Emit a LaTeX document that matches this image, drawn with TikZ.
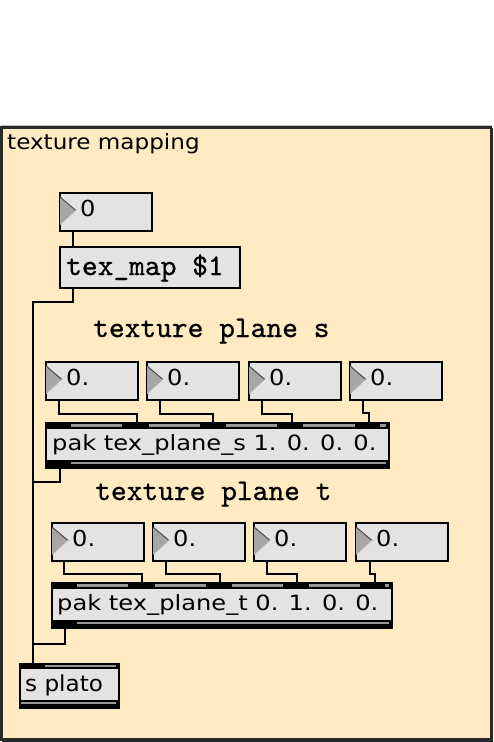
\documentclass[tikz,border=0pt]{standalone}
\usepackage{fontspec}
\usepackage{graphicx}
\usetikzlibrary{calc}
\newfontfamily\genfont{DejaVu Sans}
\newfontfamily\monob{lmmono10-regular.otf}[FakeBold=0.7]
\definecolor{panelfill}{HTML}{FFEBC1}
\definecolor{panelborder}{HTML}{2A2A2A}
\definecolor{boxfill}{HTML}{E3E3E3}
\definecolor{stripgray}{HTML}{979797}
\definecolor{trigray}{HTML}{A6A6A6}
\tikzset{
  boxbase/.style={draw=black, fill=boxfill, line width=2pt, anchor=north west, inner sep=0pt},
  nbox/.style={boxbase, minimum width=92pt, minimum height=38pt},
  cord/.style={draw=black, line width=2pt},
  gentxt/.style={anchor=base west, inner sep=0pt, font=\genfont\fontsize{21}{24}\selectfont},
  monotxt/.style={anchor=base west, inner sep=0pt, font=\monob\fontsize{30}{32}\selectfont},
  tri/.style={fill=trigray},
  triedge/.style={draw=black!70, line width=1pt},
  trihatch/.style={draw=white!60!gray, line width=1pt, dotted},
  band/.style={fill=black},
  strip/.style={fill=stripgray}
}
\newcommand\mxnum[4]{%
  \node[nbox] (#1) at (#2,#3) {};
  \fill[tri] ($(#1.north west)+(1,5)$) -- ++(16,13.5) -- ++(-16,14.5) -- cycle;
  \draw[triedge] ($(#1.north west)+(1,5)$) -- ++(16,13.5);
  \draw[trihatch] ($(#1.north west)+(17,18.5)$) -- ++(-15,13.5);
  \node[gentxt] (#1t) at ($(#1.north west)+(21,24.5)$) {\scalebox{1.15}[1.05]{#4}};
}
\begin{document}
\begin{tikzpicture}[x=1pt,y=-1pt]
\useasboundingbox (0,0) rectangle (493,742);
\fill[white] (0,0) rectangle (493,742);
% panel
\draw[black!25, line width=1pt] (1,125.5) -- (492,125.5);
\fill[panelfill] (1.5,127.5) rectangle (491,739.5);
\draw[panelborder, line width=2.5pt] (1.5,127.5) rectangle (491,739.5);
\draw[panelborder, line width=1pt] (492.5,128) -- (492.5,741) -- (2,741);
\node[gentxt] (title) at (7,149) {\scalebox{1.1}[1]{texture mapping}};

% number box 0 and message box
\mxnum{n0}{59}{192}{0}
\node[boxbase, minimum width=180pt, minimum height=41pt] (tm) at (59,246) {};
\node[monotxt] (tmt) at (66,275) {tex\_map \$1};

% labels
\node[monotxt] (labs) at (93,337) {texture plane s};
\node[monotxt] (labt) at (95,500) {texture plane t};

% row s number boxes
\mxnum{s1}{45}{361}{0.}
\mxnum{s2}{146}{361}{0.}
\mxnum{s3}{248}{361}{0.}
\mxnum{s4}{349}{361}{0.}

% pak s
\node[boxbase, minimum width=343pt, minimum height=45pt] (ps) at (45,422) {};
\fill[band] (45,422) rectangle (388,428.5);
\fill[strip] (71,424.3) rectangle (122,426.8);
\fill[strip] (149,424.3) rectangle (200,426.8);
\fill[strip] (226,424.3) rectangle (277,426.8);
\fill[strip] (303,424.3) rectangle (355,426.8);
\fill[strip] (380,424.3) rectangle (386,426.8);
\fill[band] (45,459.5) rectangle (388,467);
\fill[strip] (71,461.5) rectangle (386,463.8);
\node[gentxt] (pst) at (52,450.5) {\scalebox{1.15}[1]{pak tex\_plane\_s 1. 0. 0. 0.}};

% row t number boxes
\mxnum{t1}{51}{522}{0.}
\mxnum{t2}{152}{522}{0.}
\mxnum{t3}{253}{522}{0.}
\mxnum{t4}{355}{522}{0.}

% pak t
\node[boxbase, minimum width=340pt, minimum height=45pt] (pt) at (51,582) {};
\fill[band] (51,582) rectangle (391,588.5);
\fill[strip] (77,584.3) rectangle (128,586.8);
\fill[strip] (155,584.3) rectangle (206,586.8);
\fill[strip] (232,584.3) rectangle (283,586.8);
\fill[strip] (309,584.3) rectangle (360,586.8);
\fill[strip] (385,584.3) rectangle (389,586.8);
\fill[band] (51,619.5) rectangle (391,627);
\fill[strip] (77,621.5) rectangle (389,623.8);
\node[gentxt] (ptt) at (57,610.5) {\scalebox{1.15}[1]{pak tex\_plane\_t 0. 1. 0. 0.}};

% s plato
\node[boxbase, minimum width=99pt, minimum height=44pt] (sp) at (19,663) {};
\fill[band] (19,663) rectangle (118,668.5);
\fill[strip] (45,664.8) rectangle (116,667);
\fill[band] (19,699.5) rectangle (118,707);
\fill[strip] (21,701.5) rectangle (116,703.8);
\node[gentxt, font=\genfont\fontsize{22}{24}\selectfont] (spt) at (25,691.5) {\scalebox{1.05}[1]{s plato}};

% connectors
\coordinate (js) at (32.5,482);
\coordinate (jt) at (32.5,644);
\draw[cord] ($(n0.south west)+(13.7,0)$) -- ($(tm.north west)+(13.7,0)$);
\draw[cord] ($(tm.south west)+(13.7,0)$) -- ++(0,13) -| ($(sp.north west)+(13.5,0)$);
\draw[cord] ($(ps.south west)+(15,0)$) |- (js);
\draw[cord] ($(pt.south west)+(14,0)$) |- (jt);

\draw[cord] ($(s1.south west)+(14.3,0)$) -- ++(0,12.7) -| ($(ps.north west)+(92.3,0)$);
\draw[cord] ($(s2.south west)+(14,0)$) -- ++(0,12.7) -| ($(ps.north west)+(168.3,0)$);
\draw[cord] ($(s3.south west)+(14.3,0)$) -- ++(0,12.7) -| ($(ps.north west)+(246.7,0)$);
\draw[cord] ($(s4.south west)+(14.3,0)$) -- ++(0,12) -| ($(ps.north west)+(324,0)$);

\draw[cord] ($(t1.south west)+(13.3,0)$) -- ++(0,11.7) -| ($(pt.north west)+(91.3,0)$);
\draw[cord] ($(t2.south west)+(13.7,0)$) -- ++(0,11.7) -| ($(pt.north west)+(169,0)$);
\draw[cord] ($(t3.south west)+(14.3,0)$) -- ++(0,11.7) -| ($(pt.north west)+(245.7,0)$);
\draw[cord] ($(t4.south west)+(15,0)$) -- ++(0,11.7) -| ($(pt.north west)+(324,0)$);
\end{tikzpicture}
\end{document}
